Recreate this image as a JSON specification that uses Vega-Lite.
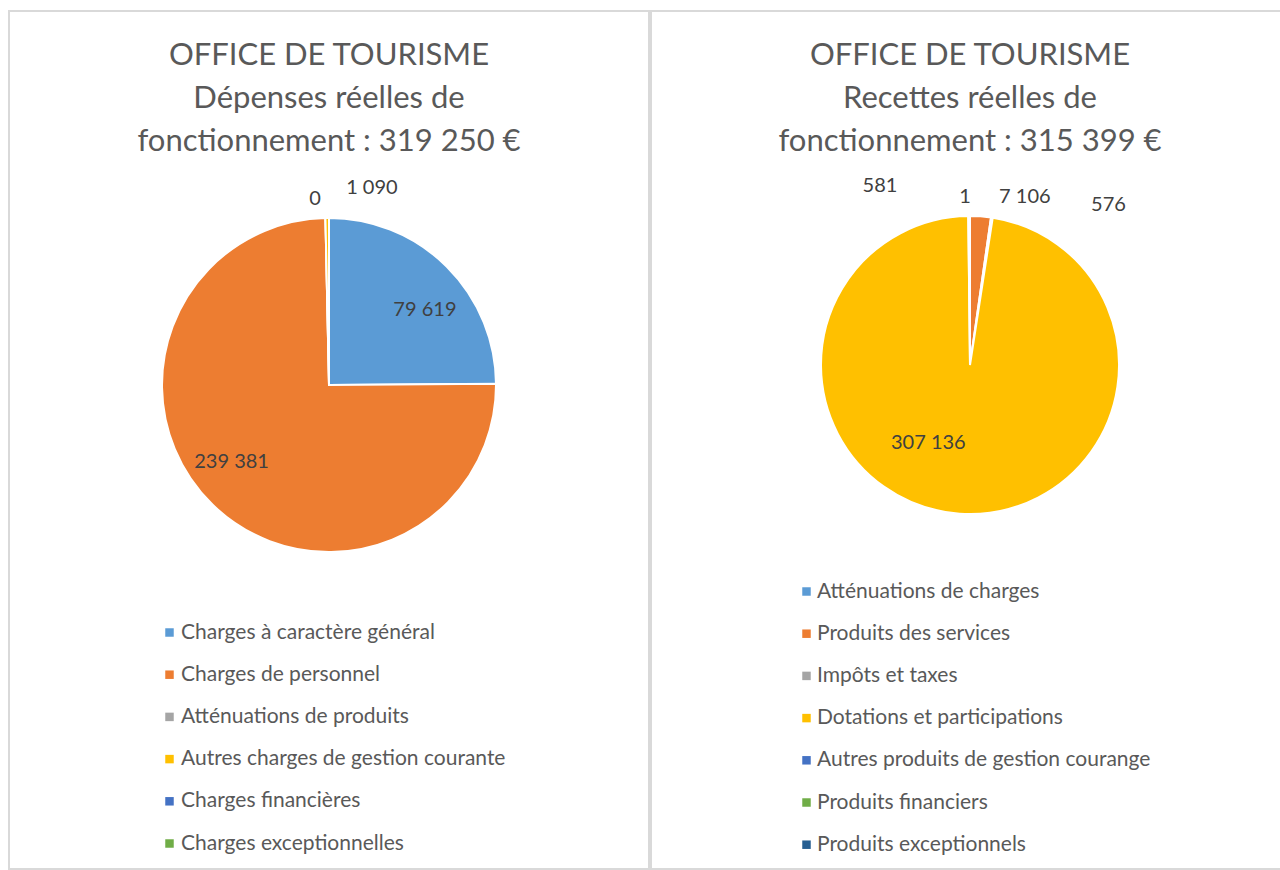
{
  "$schema": "https://vega.github.io/schema/vega-lite/v6.json",
  "background": "white",
  "padding": {"left": 8, "top": 10, "right": 0, "bottom": 0},
  "spacing": 0,
  "resolve": {"scale": {"color": "independent"}, "legend": {"color": "independent"}},
  "datasets": {
    "dep": [
      {"idx": 1, "cat": "Charges à caractère général", "value": 79619},
      {"idx": 2, "cat": "Charges de personnel", "value": 239381},
      {"idx": 3, "cat": "Atténuations de produits", "value": 0},
      {"idx": 4, "cat": "Autres charges de gestion courante", "value": 1090},
      {"idx": 5, "cat": "Charges financières", "value": 0},
      {"idx": 6, "cat": "Charges exceptionnelles", "value": 0}
    ],
    "rec": [
      {"idx": 1, "cat": "Atténuations de charges", "value": 1},
      {"idx": 2, "cat": "Produits des services", "value": 7106},
      {"idx": 3, "cat": "Impôts et taxes", "value": 576},
      {"idx": 4, "cat": "Dotations et participations", "value": 307136},
      {"idx": 5, "cat": "Autres produits de gestion courange", "value": 581},
      {"idx": 6, "cat": "Produits financiers", "value": 0},
      {"idx": 7, "cat": "Produits exceptionnels", "value": 0}
    ]
  },
  "hconcat": [
    {
      "width": 640,
      "height": 858,
      "data": {"name": "dep"},
      "title": {
        "text": ["OFFICE DE TOURISME", "Dépenses réelles de", "fonctionnement : 319 250 €"],
        "anchor": "middle", "frame": "group", "offset": -147,
        "font": "Lato", "fontSize": 31, "fontWeight": "normal", "color": "#595959", "lineHeight": 43
      },
      "encoding": {
        "theta": {"field": "value", "type": "quantitative", "stack": true},
        "order": {"field": "idx", "type": "quantitative", "sort": "ascending"},
        "x": {"value": 320},
        "y": {"value": 374}
      },
      "layer": [
        {
          "mark": {"type": "arc", "outerRadius": 167, "stroke": "white", "strokeWidth": 2},
          "encoding": {
            "color": {
              "field": "cat", "type": "nominal",
              "scale": {
                "domain": ["Charges à caractère général", "Charges de personnel", "Atténuations de produits", "Autres charges de gestion courante", "Charges financières", "Charges exceptionnelles"],
                "range": ["#5B9BD5", "#ED7D31", "#A5A5A5", "#FFC000", "#4472C4", "#70AD47"]
              },
              "legend": {
                "orient": "none", "legendX": 150, "legendY": 611, "title": null, "direction": "vertical",
                "symbolType": "square", "symbolSize": 72, "symbolStrokeWidth": 0,
                "labelFont": "Lato", "labelFontSize": 21, "labelColor": "#595959", "labelLimit": 400,
                "labelOffset": 1, "rowPadding": 20.2, "padding": 0
              }
            }
          }
        },
        {
          "mark": {"type": "text", "radius": 122, "dx": 10, "dy": 12, "font": "Lato", "fontSize": 20, "color": "#404040"},
          "encoding": {"text": {"condition": {"test": "datum.idx === 1", "field": "value", "type": "quantitative", "format": ",d"}, "value": ""}}
        },
        {
          "mark": {"type": "text", "radius": 124, "dx": -11, "dy": -12, "font": "Lato", "fontSize": 20, "color": "#404040"},
          "encoding": {"text": {"condition": {"test": "datum.idx === 2", "field": "value", "type": "quantitative", "format": ",d"}, "value": ""}}
        },
        {
          "mark": {"type": "text", "radius": 186, "dx": -10, "dy": 0, "font": "Lato", "fontSize": 20, "color": "#404040"},
          "encoding": {"text": {"condition": {"test": "datum.idx === 3", "field": "value", "type": "quantitative", "format": ",d"}, "value": ""}}
        },
        {
          "mark": {"type": "text", "radius": 197, "dx": 45, "dy": 0, "font": "Lato", "fontSize": 20, "color": "#404040"},
          "encoding": {"text": {"condition": {"test": "datum.idx === 4", "field": "value", "type": "quantitative", "format": ",d"}, "value": ""}}
        }
      ]
    },
    {
      "width": 630,
      "height": 858,
      "data": {"name": "rec"},
      "title": {
        "text": ["OFFICE DE TOURISME", "Recettes réelles de", "fonctionnement : 315 399 €"],
        "anchor": "middle", "frame": "group", "offset": -147, "dx": 4,
        "font": "Lato", "fontSize": 31, "fontWeight": "normal", "color": "#595959", "lineHeight": 43
      },
      "encoding": {
        "theta": {"field": "value", "type": "quantitative", "stack": true},
        "order": {"field": "idx", "type": "quantitative", "sort": "ascending"},
        "x": {"value": 319},
        "y": {"value": 354}
      },
      "layer": [
        {
          "mark": {"type": "arc", "outerRadius": 149, "stroke": "white", "strokeWidth": 2},
          "encoding": {
            "color": {
              "field": "cat", "type": "nominal",
              "scale": {
                "domain": ["Atténuations de charges", "Produits des services", "Impôts et taxes", "Dotations et participations", "Autres produits de gestion courange", "Produits financiers", "Produits exceptionnels"],
                "range": ["#5B9BD5", "#ED7D31", "#A5A5A5", "#FFC000", "#4472C4", "#70AD47", "#255E91"]
              },
              "legend": {
                "orient": "none", "legendX": 145, "legendY": 570, "title": null, "direction": "vertical",
                "symbolType": "square", "symbolSize": 72, "symbolStrokeWidth": 0,
                "labelFont": "Lato", "labelFontSize": 21, "labelColor": "#595959", "labelLimit": 400,
                "labelOffset": 0, "rowPadding": 20.2, "padding": 0
              }
            }
          }
        },
        {
          "mark": {"type": "text", "radius": 168, "dx": -5, "dy": 0, "font": "Lato", "fontSize": 20, "color": "#404040"},
          "encoding": {"text": {"condition": {"test": "datum.idx === 1", "field": "value", "type": "quantitative", "format": ",d"}, "value": ""}}
        },
        {
          "mark": {"type": "text", "radius": 168, "dx": 43, "dy": 0, "font": "Lato", "fontSize": 20, "color": "#404040"},
          "encoding": {"text": {"condition": {"test": "datum.idx === 2", "field": "value", "type": "quantitative", "format": ",d"}, "value": ""}}
        },
        {
          "mark": {"type": "text", "radius": 160, "dx": 115, "dy": -2, "font": "Lato", "fontSize": 20, "color": "#404040"},
          "encoding": {"text": {"condition": {"test": "datum.idx === 3", "field": "value", "type": "quantitative", "format": ",d"}, "value": ""}}
        },
        {
          "mark": {"type": "text", "radius": 80, "dx": -36, "dy": -2, "font": "Lato", "fontSize": 20, "color": "#404040"},
          "encoding": {"text": {"condition": {"test": "datum.idx === 4", "field": "value", "type": "quantitative", "format": ",d"}, "value": ""}}
        },
        {
          "mark": {"type": "text", "radius": 179, "dx": -89, "dy": 0, "font": "Lato", "fontSize": 20, "color": "#404040"},
          "encoding": {"text": {"condition": {"test": "datum.idx === 5", "field": "value", "type": "quantitative", "format": ",d"}, "value": ""}}
        }
      ]
    }
  ],
  "config": {
    "font": "Lato",
    "view": {"stroke": "#d9d9d9", "strokeWidth": 2},
    "locale": {"number": {"decimal": ",", "thousands": " ", "grouping": [3], "currency": ["", " €"]}}
  }
}
